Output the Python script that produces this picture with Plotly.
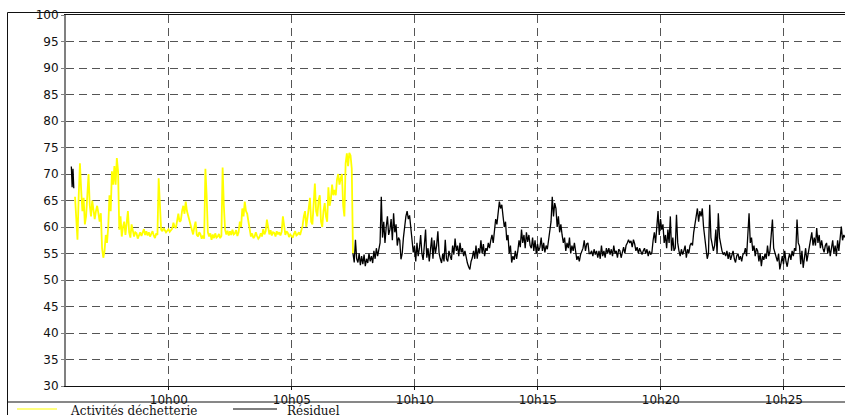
import pandas as pd
import plotly.graph_objects as go

# Sound level (dB(A)) sampled every 3 s during the waste-collection activity
activites_start = "2024-01-01 09:56:11"
activites = [
    65.7, 61.0, 57.6, 66.0, 72.0,
    67.0, 63.0, 65.5, 60.5, 62.0, 66.0, 70.0, 64.0, 62.0, 65.0, 63.5, 61.5,
    63.0, 64.0, 62.6, 61.0, 62.6,
    56.0, 54.2, 55.5, 58.5, 57.0,
    60.0, 66.0, 63.0, 70.5, 68.0, 71.5, 68.0, 73.0,
    70.5, 59.5, 62.0,
    58.2, 60.0, 61.0, 58.5, 60.5, 63.0, 59.0, 58.0, 60.5,
    59.5, 58.2, 59.0, 58.8, 57.8, 58.5, 59.0, 58.3, 58.9, 59.6, 58.5,
    59.2, 58.4, 59.0, 58.2, 58.6, 59.2, 58.4, 57.9, 58.8, 58.5,
    69.2, 64.0,
    59.5, 59.2, 59.8, 59.4, 59.0, 59.3, 59.6, 59.1, 59.4, 59.7,
    60.8, 60.0, 59.8, 61.5, 62.5, 61.0, 61.2, 63.0, 64.0, 62.5, 64.8, 63.0, 62.0,
    61.0, 60.5, 59.5, 58.6, 60.0, 61.0, 58.5, 58.2, 59.0, 58.6, 57.8, 58.4, 57.8,
    71.0, 66.0,
    59.0, 58.2, 58.8, 57.6, 58.6, 57.9, 58.8, 58.0, 58.2, 58.7, 57.9, 58.3,
    71.2, 64.0,
    59.5, 58.6, 59.3, 58.4, 59.2, 58.5, 59.5, 58.6, 58.8, 59.4, 58.3, 59.0,
    61.0, 60.0, 63.5, 62.0, 64.8, 63.0, 62.5, 61.0,
    59.5, 58.2, 58.8, 57.9, 58.2, 59.0, 58.3, 57.8, 58.1, 58.8, 58.2, 59.6, 58.6, 59.2,
    61.4, 60.0, 58.6,
    59.4, 58.4, 59.0, 58.9, 58.2, 59.2, 58.6, 59.0, 58.4, 59.1,
    62.0, 60.0,
    58.5, 59.2, 58.9, 58.1, 58.6, 58.3, 58.0, 58.7, 59.2, 58.4, 58.6, 59.0, 58.5, 59.4,
    60.2, 62.0, 63.0, 60.0, 61.5, 63.5, 65.5, 61.0, 60.5, 66.0,
    68.2, 63.0, 62.0, 65.0, 66.0, 61.0, 60.0, 63.0, 64.5, 62.0,
    61.0, 67.5, 64.0, 65.2, 68.0, 66.0, 67.0, 66.0, 69.0, 70.0, 68.0, 69.2,
    70.0, 64.0, 62.0,
    72.0, 73.9, 71.5, 74.0, 73.5, 71.0,
    55.0,
]

# Residual noise: a short burst at the start (2 s samples), then 3 s samples
residuel_burst_start = "2024-01-01 09:56:02"
residuel_burst = [71.4, 67.5, 71.0, 67.3]

residuel_start = "2024-01-01 10:07:29"
residuel = [
    55.0, 53.3, 57.6, 54.0, 53.3,
    55.0, 52.8, 54.5, 53.0, 54.8, 52.6, 54.0, 53.2, 55.0, 53.5,
    54.5, 53.2, 55.5, 54.0, 56.0, 54.5, 55.7, 57.0,
    65.7, 58.0,
    61.0, 57.0, 60.0, 62.0, 58.5, 59.5, 61.5, 57.5, 62.6, 59.0, 60.5, 56.5, 58.0, 57.5,
    53.9, 55.0,
    58.0, 60.5, 62.0, 63.0, 61.5, 62.2, 60.0,
    58.0, 55.2, 56.5, 53.5,
    57.0, 54.5, 56.0, 58.5, 55.0, 53.8, 56.5, 59.5, 54.2, 56.0, 53.5, 55.5,
    58.0, 54.0, 57.5, 55.0, 56.5,
    59.2, 55.0,
    54.0, 53.2, 55.0, 53.5, 57.6, 54.0, 53.5, 55.5, 54.5, 53.8,
    56.5, 54.8, 57.8, 55.5, 56.5, 54.5, 57.0, 55.2, 56.0, 54.5, 55.5,
    54.0, 53.2, 52.5, 52.0, 53.5, 54.2,
    55.5, 54.0, 56.5, 54.0, 56.0, 55.0, 57.5, 55.0, 56.8, 54.5, 56.0, 55.5, 57.0, 56.0,
    57.5, 58.5, 57.0, 59.5, 61.5, 60.5,
    63.0, 64.8, 63.5, 64.2, 62.0,
    60.0, 61.0, 57.5, 58.5,
    55.0, 56.5, 53.3, 54.5, 53.8, 55.5, 54.0,
    55.5, 57.5, 56.2, 59.5, 57.0, 58.5, 56.0, 59.0, 57.2, 58.5, 56.5,
    56.0, 58.0, 55.5, 57.5, 55.0, 56.8, 55.5, 56.2, 58.0, 55.5, 57.0, 55.2,
    56.5, 55.8, 57.5, 59.5,
    61.0, 65.7, 62.0, 64.5, 63.5,
    60.0, 62.0, 59.0, 60.5, 58.5,
    57.0, 58.0, 55.5, 57.0, 56.0, 58.0, 55.0, 56.5, 55.5, 57.0, 55.0,
    53.8, 54.5, 53.5, 54.8, 55.5,
    56.0, 57.5, 55.5, 56.8, 57.0, 55.0,
    55.0, 55.5, 54.5, 55.8, 54.8, 55.5, 54.2, 55.5,
    54.0, 56.5, 54.5, 55.5, 54.2, 56.0,
    55.0, 56.0, 54.8, 55.8, 54.5, 56.5, 55.0, 55.5, 54.2, 55.8,
    55.5, 54.2, 55.5, 56.2, 55.0, 56.5, 57.0,
    57.6, 57.0, 57.4, 56.2, 57.6, 56.8,
    55.5, 56.2, 55.0, 56.0, 55.2, 54.8, 55.5, 56.0, 55.0, 55.8, 54.5, 55.5, 54.8, 55.2,
    57.5, 59.0, 57.0, 60.0, 63.0, 58.5, 61.5,
    59.5, 60.5, 57.0, 58.5, 56.0, 59.5, 57.0, 62.0, 55.5, 58.0, 55.5, 56.0,
    62.3, 57.0,
    55.5, 54.5, 55.8, 54.8, 55.5, 56.5, 54.2, 55.8, 55.0, 56.5,
    57.0, 56.5, 59.0, 60.5,
    62.0, 63.5, 61.0, 63.0, 62.0, 63.5, 60.0,
    57.5, 55.5, 54.0, 55.0,
    64.2, 58.0,
    57.0, 55.5, 56.5, 59.5, 55.0, 62.6, 58.0, 56.5,
    55.5, 54.8, 55.2, 54.5, 55.5, 54.0, 55.2, 53.8, 54.6, 55.5,
    54.0, 53.3, 54.6, 55.0, 53.8, 54.5, 53.5, 54.8, 55.0,
    56.0, 54.5, 58.0, 62.6, 57.0,
    58.0, 55.5, 56.5, 54.5, 56.0, 55.5, 53.5, 55.0, 52.6, 54.5, 53.8, 55.0,
    54.0, 56.5, 54.5, 55.5,
    58.0, 61.4, 56.0,
    55.0, 54.0, 53.5, 55.0, 52.0, 53.2, 54.5, 53.0, 55.5, 53.5, 52.5, 54.0,
    55.0, 53.8, 55.5, 54.5, 56.0, 55.5,
    61.4, 57.0,
    56.4, 53.0, 55.5, 52.3, 54.5, 56.0, 53.5, 55.0, 56.0,
    57.5, 59.0, 56.5, 58.0, 56.5, 59.8, 57.0, 58.5, 56.0, 57.5, 56.0, 55.2,
    56.5, 57.0, 55.0, 56.5, 54.5, 56.0, 57.5, 55.0, 56.5, 54.5, 57.5, 55.5,
    58.0, 60.1, 57.5, 58.5, 58.0,
]

tick_times = ["2024-01-01 10:00", "2024-01-01 10:05", "2024-01-01 10:10",
              "2024-01-01 10:15", "2024-01-01 10:20", "2024-01-01 10:25"]
tick_text = ["10h00", "10h05", "10h10", "10h15", "10h20", "10h25"]
y_ticks = list(range(30, 101, 5))

legend_names = ["Activités déchetterie", "Résiduel"]
colors = ["#FFFF00", "#000000"]

t_act = pd.date_range(activites_start, periods=len(activites), freq="3s")
t_burst = pd.date_range(residuel_burst_start, periods=len(residuel_burst), freq="2s")
t_res = pd.date_range(residuel_start, periods=len(residuel), freq="3s")

res_x = list(t_burst) + [t_burst[-1] + pd.Timedelta(seconds=1)] + list(t_res)
res_y = residuel_burst + [None] + residuel

fig = go.Figure()
fig.add_trace(go.Scatter(x=t_act, y=activites, mode="lines", name=legend_names[0],
                         line=dict(color=colors[0], width=1.8), connectgaps=False))
fig.add_trace(go.Scatter(x=res_x, y=res_y, mode="lines", name=legend_names[1],
                         line=dict(color=colors[1], width=1.3), connectgaps=False))

W, H = 845, 415
ML, MR, MT, MB = 66, 0, 15, 29
PW, PH = W - ML - MR, H - MT - MB


def px(xp):
    return (xp - ML) / PW


def py(yp):
    return (H - MB - yp) / PH


grid = "#555555"
fig.update_layout(
    width=W, height=H,
    margin=dict(l=ML, r=MR, t=MT, b=MB, pad=0),
    paper_bgcolor="white", plot_bgcolor="white",
    showlegend=False,
    xaxis=dict(
        range=["2024-01-01 09:55:49", "2024-01-01 10:27:29"],
        tickvals=tick_times, ticktext=tick_text,
        showgrid=True, gridcolor=grid, gridwidth=1.4, griddash="8px,5px",
        showline=True, linecolor="#111111", linewidth=1, mirror=True,
        ticks="outside", ticklen=3, tickcolor="#111111",
        tickfont=dict(family="DejaVu Sans", size=12, color="#111111"),
        zeroline=False,
    ),
    yaxis=dict(
        range=[30, 100], tickvals=y_ticks,
        showgrid=True, gridcolor=grid, gridwidth=1.4, griddash="8px,5px",
        showline=True, linecolor="#808080", linewidth=2,
        ticks="outside", ticklen=3, tickcolor="#808080",
        tickfont=dict(family="DejaVu Sans", size=12, color="#111111"),
        zeroline=False,
    ),
)

# outer frame and legend separator
fig.add_shape(type="rect", xref="paper", yref="paper",
              x0=px(7.5), x1=px(860), y0=py(430), y1=py(12.5),
              line=dict(color="#111111", width=1), fillcolor="rgba(0,0,0,0)")
fig.add_shape(type="line", xref="paper", yref="paper",
              x0=px(7.5), x1=px(860), y0=py(402), y1=py(402),
              line=dict(color="#111111", width=1))

# legend entries
legend_items = [(17, 57, 68), (233, 277, 285)]
for name, color, (lx0, lx1, tx) in zip(legend_names, colors, legend_items):
    fig.add_shape(type="line", xref="paper", yref="paper",
                  x0=px(lx0), x1=px(lx1), y0=py(409), y1=py(409),
                  line=dict(color=color, width=1.2))
    fig.add_annotation(text=name, xref="paper", yref="paper",
                       x=px(tx), y=py(411), xanchor="left", yanchor="middle",
                       showarrow=False,
                       font=dict(family="DejaVu Serif", size=12, color="#111111"))

fig.write_html("out.html")
